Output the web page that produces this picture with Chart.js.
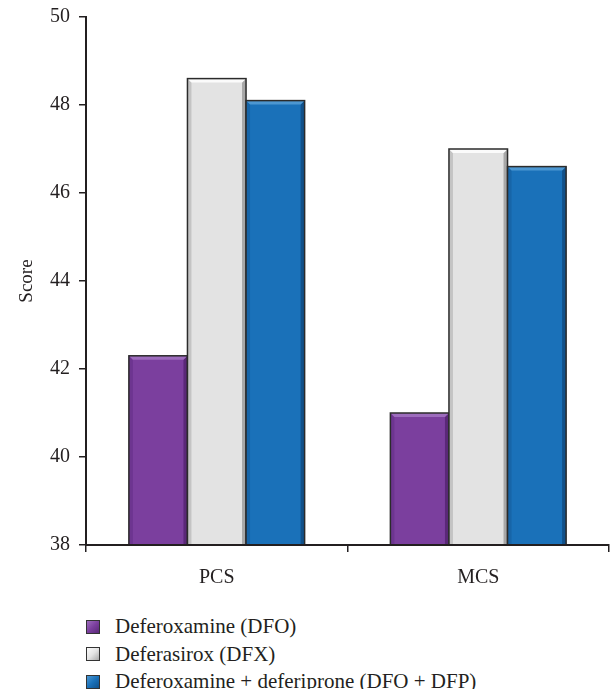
<!DOCTYPE html>
<html>
<head>
<meta charset="utf-8">
<script src="https://cdn.jsdelivr.net/npm/chart.js@4"></script>
<style>
  html, body { margin: 0; padding: 0; background: #fff; overflow: hidden; }
  #wrap { position: relative; width: 610px; height: 600px; margin-top: -4px; }
  #legend { margin: 17px 0 0 86px; font-family: "Liberation Serif", "DejaVu Serif", serif; font-size: 21px; color: #231f20; }
  .item { display: flex; align-items: center; height: 27.5px; }
  .box { width: 14px; height: 14px; border: 1px solid #333; margin-right: 15px; box-sizing: border-box; }
</style>
</head>
<body>
<div id="wrap"><canvas id="chart" width="610" height="604"></canvas></div>
<div id="legend"></div>
<script>
/* treatment groups, PCS / MCS quality-of-life scores */
const categories = ['PCS', 'MCS'];
const seriesNames = ['Deferoxamine (DFO)', 'Deferasirox (DFX)', 'Deferoxamine + deferiprone (DFO + DFP)'];
const dfoValues = [42.3, 41.0];
const dfxValues = [48.6, 47.0];
const comboValues = [48.1, 46.6];
const yTicks = [38, 40, 42, 44, 46, 48, 50];

// base, top bevel, left bevel, right bevel
const palette = [
    ['#7b3f9e', '#9d6cbd', '#6d3590', '#5a2878'],
    ['#e3e3e3', '#fbfbfb', '#c4c4c4', '#a8a8a8'],
    ['#1a71b9', '#4c97d2', '#1765a8', '#11518a']
];

const bevelPlugin = {
    id: 'bevel',
    afterDatasetsDraw(chart) {
        const ctx = chart.ctx;
        const a = chart.chartArea;
        chart.data.datasets.forEach((ds, i) => {
            const cols = palette[i];
            chart.getDatasetMeta(i).data.forEach(bar => {
                const p = bar.getProps(['x', 'y', 'base', 'width'], true);
                const l = p.x - p.width / 2, r = p.x + p.width / 2, t = p.y, b = Math.min(p.base, a.bottom);
                const k = 4;
                ctx.save();
                ctx.fillStyle = cols[0];
                ctx.fillRect(l, t, r - l, b - t);
                ctx.fillStyle = cols[2];
                ctx.beginPath(); ctx.moveTo(l, t); ctx.lineTo(l + k, t + k); ctx.lineTo(l + k, b); ctx.lineTo(l, b); ctx.closePath(); ctx.fill();
                ctx.fillStyle = cols[3];
                ctx.beginPath(); ctx.moveTo(r, t); ctx.lineTo(r - k, t + k); ctx.lineTo(r - k, b); ctx.lineTo(r, b); ctx.closePath(); ctx.fill();
                ctx.fillStyle = cols[1];
                ctx.beginPath(); ctx.moveTo(l, t); ctx.lineTo(r, t); ctx.lineTo(r - k, t + k); ctx.lineTo(l + k, t + k); ctx.closePath(); ctx.fill();
                ctx.strokeStyle = '#2b2b2b';
                ctx.lineWidth = 1.5;
                ctx.strokeRect(l, t, r - l, b - t);
                ctx.restore();
            });
        });
        // redraw axis lines over bars
        ctx.save();
        ctx.strokeStyle = '#231f20';
        ctx.lineWidth = 2;
        ctx.beginPath();
        ctx.moveTo(a.left, a.top); ctx.lineTo(a.left, a.bottom); ctx.lineTo(a.right, a.bottom);
        ctx.stroke();
        ctx.restore();
    }
};

const font = { family: '"Liberation Serif", "DejaVu Serif", serif', size: 20 };

new Chart(document.getElementById('chart'), {
    type: 'bar',
    data: {
        labels: categories,
        datasets: [
            { label: seriesNames[0], data: dfoValues, backgroundColor: 'rgba(0,0,0,0)' },
            { label: seriesNames[1], data: dfxValues, backgroundColor: 'rgba(0,0,0,0)' },
            { label: seriesNames[2], data: comboValues, backgroundColor: 'rgba(0,0,0,0)' }
        ]
    },
    options: {
        responsive: false, animation: false,
        layout: { padding: { top: 12, right: 1, left: 0, bottom: 0 } },
        categoryPercentage: 0.672, barPercentage: 1,
        plugins: { legend: { display: false }, tooltip: { enabled: false } },
        scales: {
            x: {
                afterFit: s => { s.height = 55; },
                grid: { offset: true, drawOnChartArea: false, drawTicks: true, tickLength: 7, color: '#231f20', lineWidth: 1.5 },
                border: { color: '#231f20', width: 2 },
                ticks: { font, color: '#231f20', padding: 14 }
            },
            y: {
                min: 38, max: 50,
                afterFit: s => { s.width = 86; },
                afterBuildTicks: s => { s.ticks = yTicks.map(v => ({ value: v })); },
                grid: { drawOnChartArea: false, drawTicks: true, tickLength: 7, color: '#231f20', lineWidth: 1.5 },
                border: { color: '#231f20', width: 2 },
                ticks: { font, color: '#231f20', padding: 9 },
                title: { display: true, text: 'Score', font: { family: font.family, size: 19 }, color: '#231f20', padding: { top: 16, bottom: 4 } }
            }
        }
    },
    plugins: [bevelPlugin]
});

document.getElementById('legend').innerHTML = seriesNames.map((n, i) =>
    `<div class="item"><span class="box" style="background:linear-gradient(135deg, ${palette[i][1]}, ${palette[i][0]} 50%, ${palette[i][3]})"></span>${n}</div>`
).join('');
</script>
</body>
</html>
